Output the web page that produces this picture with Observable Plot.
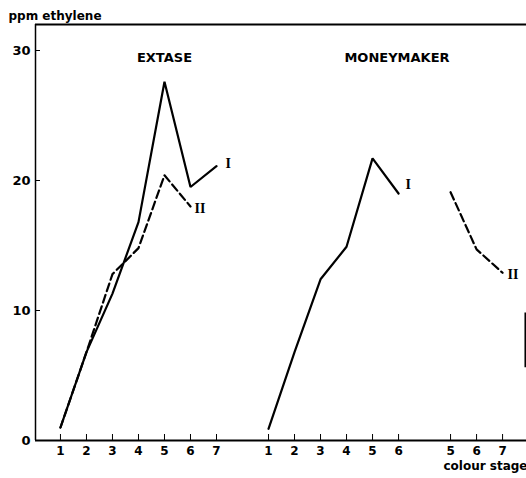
<!DOCTYPE html>
<html>
<head>
<meta charset="utf-8">
<script src="https://cdn.jsdelivr.net/npm/d3@7"></script>
<script src="https://cdn.jsdelivr.net/npm/@observablehq/plot@0.6"></script>
<style>
  html, body { margin: 0; padding: 0; background: #fff; }
</style>
</head>
<body>
<div id="chart"></div>
<script>
// Ethylene production (ppm) by colour stage for two tomato cultivars.
const extaseStages = [1, 2, 3, 4, 5, 6, 7];
const extaseI = [1.0, 6.8, 11.3, 16.8, 27.6, 19.5, 21.1];
const extaseStagesII = [1, 2, 3, 4, 5, 6];
const extaseII = [1.0, 6.8, 12.8, 14.8, 20.4, 18.0];

const moneyStagesI = [1, 2, 3, 4, 5, 6];
const moneyI = [0.9, 6.8, 12.4, 14.9, 21.7, 19.0];
const moneyStagesII = [5, 6, 7];
const moneyII = [19.1, 14.7, 12.9];

const yTicks = [0, 10, 20, 30];

// Each group of stages sits side by side on one shared axis, separated by an empty slot.
const groups = [
  {name: "extase", stages: extaseStages, offset: -1},
  {name: "moneyI", stages: moneyStagesI, offset: 7},
  {name: "moneyII", stages: moneyStagesII, offset: 10}
];
const offsetOf = Object.fromEntries(groups.map(g => [g.name, g.offset]));

const tickSlots = groups.flatMap(g => g.stages.map(s => s + g.offset));
const tickLabel = new Map(groups.flatMap(g => g.stages.map(s => [s + g.offset, String(s)])));

const series = (stages, values, group) =>
  stages.map((s, i) => ({slot: s + offsetOf[group], ppm: values[i]}));

const dataEI = series(extaseStages, extaseI, "extase");
const dataEII = series(extaseStagesII, extaseII, "extase");
const dataMI = series(moneyStagesI, moneyI, "moneyI");
const dataMII = series(moneyStagesII, moneyII, "moneyII");

const xMin = -0.96, xMax = 17.92, yMax = 32;
const dash = "8,4";
const roman = {fontFamily: "Liberation Serif", fontWeight: "bold", fontSize: 14, textAnchor: "start"};

const chart = Plot.plot({
  width: 526,
  height: 478,
  marginLeft: 35,
  marginRight: 0,
  marginTop: 24,
  marginBottom: 38,
  x: {domain: [xMin, xMax]},
  y: {domain: [0, yMax]},
  style: {fontFamily: "DejaVu Sans", fontWeight: "bold", fontSize: "12px", background: "#fff", color: "#000"},
  marks: [
    Plot.ruleY([0], {strokeWidth: 2}),
    Plot.ruleY([yMax], {strokeWidth: 2}),
    Plot.ruleX([xMin], {strokeWidth: 1.5}),
    Plot.ruleX([xMax - 0.04], {y1: 5.6, y2: 9.8, strokeWidth: 2}),
    Plot.axisX(tickSlots, {tickFormat: d => tickLabel.get(d), tickSize: -6, tickPadding: 12, fontSize: 12, label: null}),
    Plot.axisY(yTicks, {tickSize: -5, tickPadding: 10, fontSize: 13, label: null}),

    Plot.line(dataEI, {x: "slot", y: "ppm", stroke: "#000", strokeWidth: 2.2, strokeLinejoin: "miter"}),
    Plot.line(dataEII, {x: "slot", y: "ppm", stroke: "#000", strokeWidth: 2.2, strokeDasharray: dash}),
    Plot.line(dataMI, {x: "slot", y: "ppm", stroke: "#000", strokeWidth: 2.2, strokeLinejoin: "miter"}),
    Plot.line(dataMII, {x: "slot", y: "ppm", stroke: "#000", strokeWidth: 2.2, strokeDasharray: dash}),

    Plot.text(dataEI, Plot.selectLast({x: "slot", y: "ppm", text: () => "I", dx: 9, dy: -3, ...roman})),
    Plot.text(dataEII, Plot.selectLast({x: "slot", y: "ppm", text: () => "II", dx: 4, dy: 2, ...roman})),
    Plot.text(dataMI, Plot.selectLast({x: "slot", y: "ppm", text: () => "I", dx: 7, dy: -9, ...roman})),
    Plot.text(dataMII, Plot.selectLast({x: "slot", y: "ppm", text: () => "II", dx: 5, dy: 2, ...roman})),

    Plot.text(["EXTASE"], {x: 4, y: 29.4, fontSize: 13}),
    Plot.text(["MONEYMAKER"], {x: 12.94, y: 29.4, fontSize: 13}),
    Plot.text(["ppm ethylene"], {frameAnchor: "top-left", dx: -27, dy: -13, textAnchor: "start", fontSize: 12}),
    Plot.text(["colour stage"], {frameAnchor: "bottom-right", dx: 1, dy: 29, textAnchor: "end", fontSize: 12})
  ]
});

document.getElementById("chart").appendChild(chart);
</script>
</body>
</html>
